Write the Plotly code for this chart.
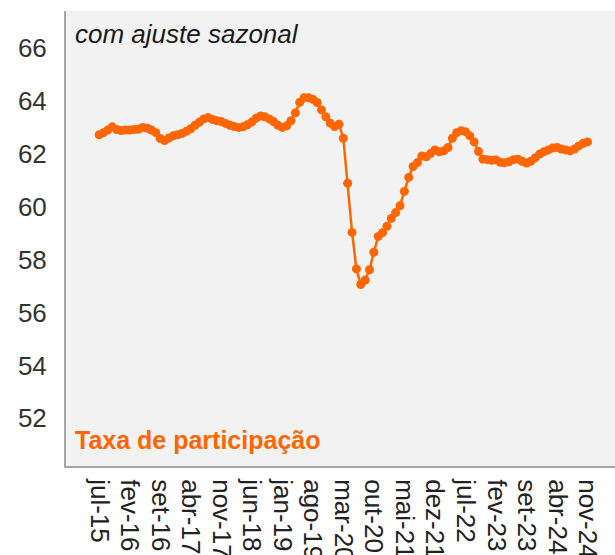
import plotly.graph_objects as go

month_abbr = ["jan", "fev", "mar", "abr", "mai", "jun", "jul", "ago", "set", "out", "nov", "dez"]
start_year = 2015
start_month = 7  # jul-15

participation = [
    62.72, 62.80, 62.90, 63.02, 62.92, 62.88, 62.90, 62.90, 62.92, 62.93,
    63.00, 62.97, 62.90, 62.80, 62.58, 62.50, 62.60, 62.68, 62.72, 62.77,
    62.85, 62.95, 63.08, 63.20, 63.32, 63.37, 63.30, 63.25, 63.22, 63.15,
    63.08, 63.03, 63.00, 63.02, 63.10, 63.20, 63.35, 63.43, 63.40, 63.32,
    63.22, 63.08, 63.00, 63.06, 63.25, 63.55, 63.95, 64.12, 64.12, 64.06,
    63.94, 63.66, 63.40, 63.16, 63.03, 63.12, 62.59, 60.89, 59.03, 57.65,
    57.06, 57.23, 57.62, 58.28, 58.88, 59.02, 59.26, 59.56, 59.78, 60.04,
    60.58, 61.11, 61.52, 61.67, 61.92, 61.89, 62.01, 62.15, 62.08, 62.11,
    62.24, 62.59, 62.80, 62.87, 62.84, 62.68, 62.45, 62.09, 61.80, 61.78,
    61.76, 61.77, 61.68, 61.66, 61.70, 61.78, 61.80, 61.72, 61.65, 61.72,
    61.85, 61.99, 62.08, 62.15, 62.22, 62.24, 62.18, 62.15, 62.11, 62.18,
    62.30, 62.40, 62.45,
]

categories = []
for k in range(len(participation)):
    m = (start_month - 1 + k) % 12
    y = start_year + (start_month - 1 + k) // 12
    categories.append(f"{month_abbr[m]}-{y % 100:02d}")

tick_labels = categories[::7]
y_ticks = [52, 54, 56, 58, 60, 62, 64, 66]

orange = "#ff6600"
font_family = "Liberation Sans, Arial, sans-serif"

fig = go.Figure()
fig.add_trace(go.Scatter(
    x=categories, y=participation, mode="lines+markers",
    line=dict(color=orange, width=2.5),
    marker=dict(color=orange, size=9),
    showlegend=False, hoverinfo="skip",
))

fig.update_layout(
    width=615, height=555,
    margin=dict(l=66, r=0, t=11, b=89),
    paper_bgcolor="white", plot_bgcolor="#f2f2f2",
    font=dict(family=font_family, color="#333333"),
    xaxis=dict(
        type="category", categoryorder="array", categoryarray=categories,
        tickmode="array", tickvals=tick_labels, ticktext=tick_labels,
        tickangle=90, tickfont=dict(size=26, color="#222222"),
        range=[-7.6, 118.3], showgrid=False, zeroline=False,
        showline=True, linecolor="#a6a6a6", linewidth=2,
        ticks="", ticklabelstandoff=6, automargin=False,
    ),
    yaxis=dict(
        range=[50.2, 67.4], tickmode="array", tickvals=y_ticks,
        tickfont=dict(size=26, color="#333333"),
        showgrid=False, zeroline=False,
        showline=True, linecolor="#a6a6a6", linewidth=2,
        ticks="", ticklabelstandoff=12, automargin=False,
    ),
    annotations=[
        dict(text="<i>com ajuste sazonal</i>", xref="paper", yref="paper",
             x=0.013, y=0.95, xanchor="left", yanchor="middle", showarrow=False,
             font=dict(size=26, color="#1a1a1a", family=font_family)),
        dict(text="<b>Taxa de participação</b>", xref="paper", yref="paper",
             x=0.013, y=0.057, xanchor="left", yanchor="middle", showarrow=False,
             font=dict(size=25, color=orange, family=font_family)),
    ],
)

fig.write_html(
    "out.html",
    config={"displayModeBar": False},
    post_script="document.body.style.margin='0';document.body.style.overflow='hidden';",
)
